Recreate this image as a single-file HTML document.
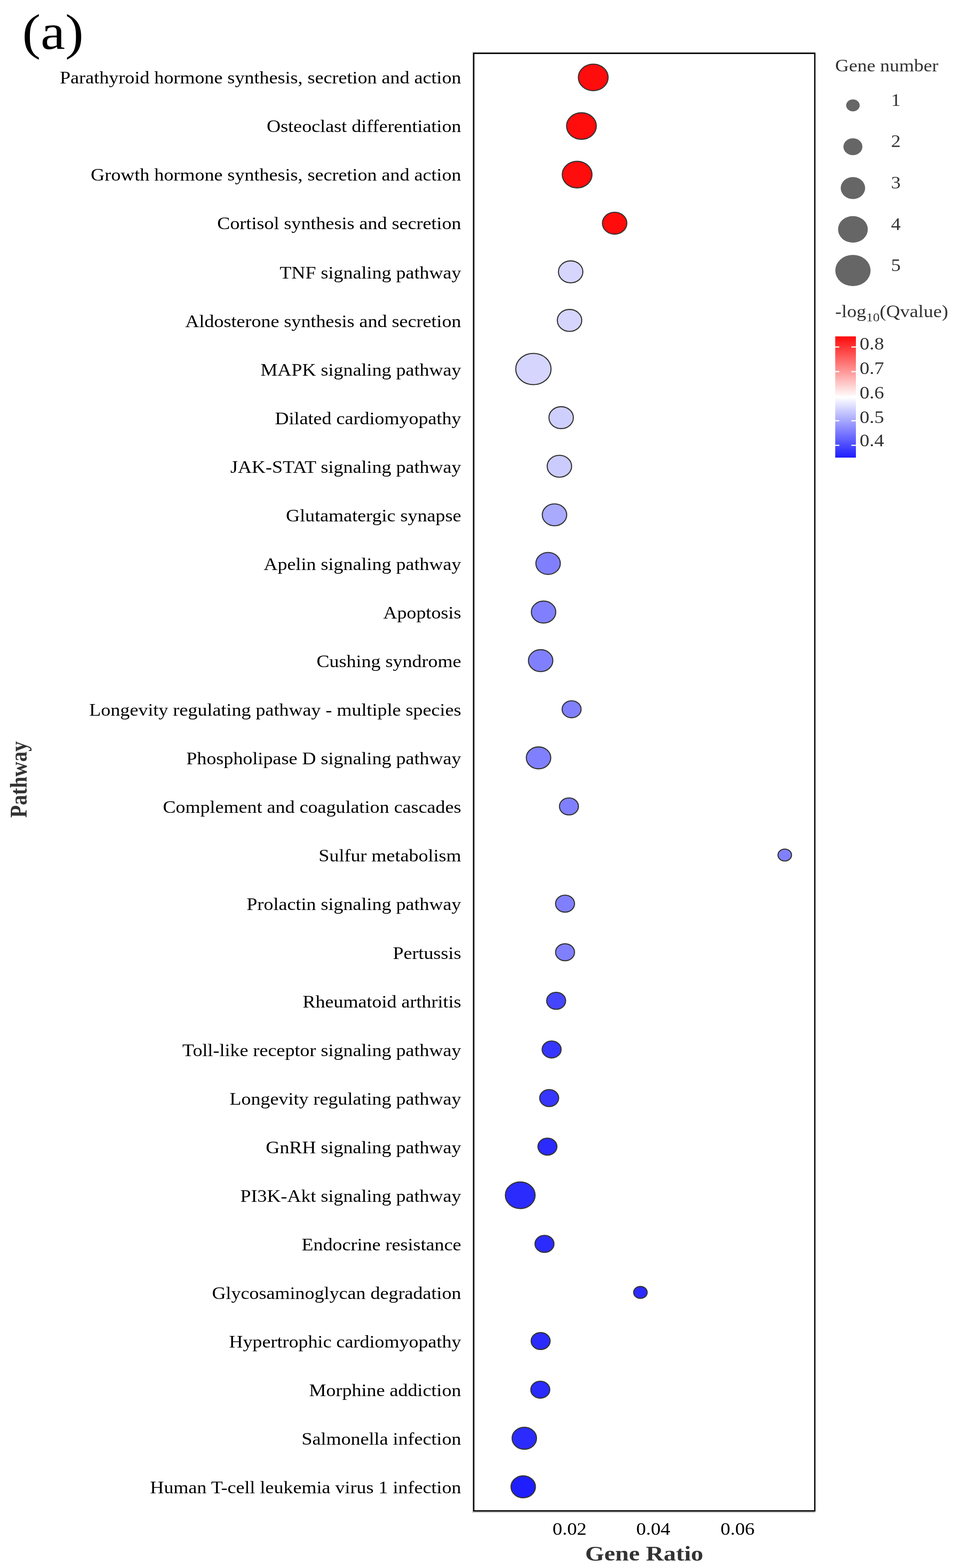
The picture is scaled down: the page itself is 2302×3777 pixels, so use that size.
<!DOCTYPE html><html><head><meta charset="utf-8"><title>Pathway enrichment bubble chart</title>
<style>html,body{margin:0;padding:0;background:#fff;}svg{display:block;}text{font-family:"Liberation Serif","Times New Roman",serif;}</style></head><body>
<svg width="2302" height="3777" viewBox="0 0 2302 3777">
<rect x="0" y="0" width="2302" height="3777" fill="#fff"/>
<text transform="translate(53.5,117.6) scale(1.10,1)" font-size="121" fill="#000">(a)</text>
<rect x="1137" y="125" width="2" height="3519" fill="#d8d8d8"/>
<rect x="1137" y="125" width="826" height="2" fill="#cccccc"/>
<rect x="1137" y="3641.5" width="826" height="2.5" fill="#c4c4c4"/>
<rect x="1140.7" y="128.5" width="821.3" height="3511" fill="none" stroke="#000" stroke-width="3.2"/>
<text transform="translate(1110.5,200.9) scale(1.1124,1)" text-anchor="end" font-size="41.6" fill="#000">Parathyroid hormone synthesis, secretion and action</text>
<text transform="translate(1110.5,318.0) scale(1.1124,1)" text-anchor="end" font-size="41.6" fill="#000">Osteoclast differentiation</text>
<text transform="translate(1110.5,435.0) scale(1.1124,1)" text-anchor="end" font-size="41.6" fill="#000">Growth hormone synthesis, secretion and action</text>
<text transform="translate(1110.5,552.1) scale(1.1124,1)" text-anchor="end" font-size="41.6" fill="#000">Cortisol synthesis and secretion</text>
<text transform="translate(1110.5,670.5) scale(1.1124,1)" text-anchor="end" font-size="41.6" fill="#000">TNF signaling pathway</text>
<text transform="translate(1110.5,787.5) scale(1.1124,1)" text-anchor="end" font-size="41.6" fill="#000">Aldosterone synthesis and secretion</text>
<text transform="translate(1110.5,904.6) scale(1.1124,1)" text-anchor="end" font-size="41.6" fill="#000">MAPK signaling pathway</text>
<text transform="translate(1110.5,1021.7) scale(1.1124,1)" text-anchor="end" font-size="41.6" fill="#000">Dilated cardiomyopathy</text>
<text transform="translate(1110.5,1138.8) scale(1.1124,1)" text-anchor="end" font-size="41.6" fill="#000">JAK-STAT signaling pathway</text>
<text transform="translate(1110.5,1255.8) scale(1.1124,1)" text-anchor="end" font-size="41.6" fill="#000">Glutamatergic synapse</text>
<text transform="translate(1110.5,1372.9) scale(1.1124,1)" text-anchor="end" font-size="41.6" fill="#000">Apelin signaling pathway</text>
<text transform="translate(1110.5,1490.0) scale(1.1124,1)" text-anchor="end" font-size="41.6" fill="#000">Apoptosis</text>
<text transform="translate(1110.5,1607.0) scale(1.1124,1)" text-anchor="end" font-size="41.6" fill="#000">Cushing syndrome</text>
<text transform="translate(1110.5,1724.1) scale(1.1124,1)" text-anchor="end" font-size="41.6" fill="#000">Longevity regulating pathway - multiple species</text>
<text transform="translate(1110.5,1841.2) scale(1.1124,1)" text-anchor="end" font-size="41.6" fill="#000">Phospholipase D signaling pathway</text>
<text transform="translate(1110.5,1958.2) scale(1.1124,1)" text-anchor="end" font-size="41.6" fill="#000">Complement and coagulation cascades</text>
<text transform="translate(1110.5,2075.3) scale(1.1124,1)" text-anchor="end" font-size="41.6" fill="#000">Sulfur metabolism</text>
<text transform="translate(1110.5,2192.4) scale(1.1124,1)" text-anchor="end" font-size="41.6" fill="#000">Prolactin signaling pathway</text>
<text transform="translate(1110.5,2309.5) scale(1.1124,1)" text-anchor="end" font-size="41.6" fill="#000">Pertussis</text>
<text transform="translate(1110.5,2426.5) scale(1.1124,1)" text-anchor="end" font-size="41.6" fill="#000">Rheumatoid arthritis</text>
<text transform="translate(1110.5,2543.6) scale(1.1124,1)" text-anchor="end" font-size="41.6" fill="#000">Toll-like receptor signaling pathway</text>
<text transform="translate(1110.5,2660.7) scale(1.1124,1)" text-anchor="end" font-size="41.6" fill="#000">Longevity regulating pathway</text>
<text transform="translate(1110.5,2777.7) scale(1.1124,1)" text-anchor="end" font-size="41.6" fill="#000">GnRH signaling pathway</text>
<text transform="translate(1110.5,2894.8) scale(1.1124,1)" text-anchor="end" font-size="41.6" fill="#000">PI3K-Akt signaling pathway</text>
<text transform="translate(1110.5,3011.9) scale(1.1124,1)" text-anchor="end" font-size="41.6" fill="#000">Endocrine resistance</text>
<text transform="translate(1110.5,3129.0) scale(1.1124,1)" text-anchor="end" font-size="41.6" fill="#000">Glycosaminoglycan degradation</text>
<text transform="translate(1110.5,3246.0) scale(1.1124,1)" text-anchor="end" font-size="41.6" fill="#000">Hypertrophic cardiomyopathy</text>
<text transform="translate(1110.5,3363.1) scale(1.1124,1)" text-anchor="end" font-size="41.6" fill="#000">Morphine addiction</text>
<text transform="translate(1110.5,3480.2) scale(1.1124,1)" text-anchor="end" font-size="41.6" fill="#000">Salmonella infection</text>
<text transform="translate(1110.5,3597.2) scale(1.1124,1)" text-anchor="end" font-size="41.6" fill="#000">Human T-cell leukemia virus 1 infection</text>
<ellipse cx="1428.5" cy="186.5" rx="35.85" ry="32.00" fill="#ff0c0c" stroke="#333" stroke-width="2.6"/>
<ellipse cx="1400.1" cy="303.6" rx="35.85" ry="32.00" fill="#ff0c0c" stroke="#333" stroke-width="2.6"/>
<ellipse cx="1389.7" cy="420.6" rx="35.85" ry="32.00" fill="#ff0c0c" stroke="#333" stroke-width="2.6"/>
<ellipse cx="1480.0" cy="537.7" rx="29.40" ry="26.40" fill="#ff0c0c" stroke="#333" stroke-width="2.6"/>
<ellipse cx="1374.1" cy="654.8" rx="29.40" ry="26.40" fill="#d5d5fe" stroke="#333" stroke-width="2.6"/>
<ellipse cx="1371.4" cy="771.8" rx="29.40" ry="26.40" fill="#d5d5fe" stroke="#333" stroke-width="2.6"/>
<ellipse cx="1284.4" cy="888.9" rx="42.50" ry="37.60" fill="#d5d5fe" stroke="#333" stroke-width="2.6"/>
<ellipse cx="1351.2" cy="1006.0" rx="29.40" ry="26.40" fill="#cfcffd" stroke="#333" stroke-width="2.6"/>
<ellipse cx="1347.0" cy="1123.1" rx="29.40" ry="26.40" fill="#cbcbfd" stroke="#333" stroke-width="2.6"/>
<ellipse cx="1335.2" cy="1240.1" rx="29.40" ry="26.40" fill="#a9a9fe" stroke="#333" stroke-width="2.6"/>
<ellipse cx="1319.8" cy="1357.2" rx="29.40" ry="26.40" fill="#8080fe" stroke="#333" stroke-width="2.6"/>
<ellipse cx="1308.9" cy="1474.3" rx="29.40" ry="26.40" fill="#8080fe" stroke="#333" stroke-width="2.6"/>
<ellipse cx="1301.8" cy="1591.3" rx="29.40" ry="26.40" fill="#8080fe" stroke="#333" stroke-width="2.6"/>
<ellipse cx="1376.4" cy="1708.4" rx="22.85" ry="20.45" fill="#8080fe" stroke="#333" stroke-width="2.6"/>
<ellipse cx="1296.8" cy="1825.5" rx="29.40" ry="26.40" fill="#8080fe" stroke="#333" stroke-width="2.6"/>
<ellipse cx="1370.0" cy="1942.5" rx="22.85" ry="20.45" fill="#8080fe" stroke="#333" stroke-width="2.6"/>
<ellipse cx="1889.7" cy="2059.6" rx="16.30" ry="14.35" fill="#8080fe" stroke="#333" stroke-width="2.6"/>
<ellipse cx="1360.6" cy="2176.7" rx="22.85" ry="20.45" fill="#8080fe" stroke="#333" stroke-width="2.6"/>
<ellipse cx="1360.6" cy="2293.8" rx="22.85" ry="20.45" fill="#8080fe" stroke="#333" stroke-width="2.6"/>
<ellipse cx="1339.2" cy="2410.8" rx="22.85" ry="20.45" fill="#4545fe" stroke="#333" stroke-width="2.6"/>
<ellipse cx="1328.3" cy="2527.9" rx="22.85" ry="20.45" fill="#3636fe" stroke="#333" stroke-width="2.6"/>
<ellipse cx="1322.4" cy="2645.0" rx="22.85" ry="20.45" fill="#3636fe" stroke="#333" stroke-width="2.6"/>
<ellipse cx="1318.2" cy="2762.0" rx="22.85" ry="20.45" fill="#2b2bfe" stroke="#333" stroke-width="2.6"/>
<ellipse cx="1252.7" cy="2879.1" rx="35.85" ry="32.00" fill="#2b2bfe" stroke="#333" stroke-width="2.6"/>
<ellipse cx="1311.1" cy="2996.2" rx="22.85" ry="20.45" fill="#2b2bfe" stroke="#333" stroke-width="2.6"/>
<ellipse cx="1542.1" cy="3113.2" rx="16.30" ry="14.35" fill="#2b2bfe" stroke="#333" stroke-width="2.6"/>
<ellipse cx="1301.8" cy="3230.3" rx="22.85" ry="20.45" fill="#2b2bfe" stroke="#333" stroke-width="2.6"/>
<ellipse cx="1301.0" cy="3347.4" rx="22.85" ry="20.45" fill="#2b2bfe" stroke="#333" stroke-width="2.6"/>
<ellipse cx="1262.5" cy="3464.5" rx="29.40" ry="26.40" fill="#2b2bfe" stroke="#333" stroke-width="2.6"/>
<ellipse cx="1259.9" cy="3581.5" rx="29.40" ry="26.40" fill="#1e1eff" stroke="#333" stroke-width="2.6"/>
<text transform="translate(1371.5,3697) scale(1.13,1)" text-anchor="middle" font-size="41.6" fill="#000">0.02</text>
<text transform="translate(1573,3697) scale(1.13,1)" text-anchor="middle" font-size="41.6" fill="#000">0.04</text>
<text transform="translate(1776,3697) scale(1.13,1)" text-anchor="middle" font-size="41.6" fill="#000">0.06</text>
<text transform="translate(1551.2,3758.5) scale(1.150,1)" text-anchor="middle" font-size="51.5" font-weight="bold" fill="#333">Gene Ratio</text>
<text transform="translate(64,1877.7) rotate(-90) scale(0.961,1.10)" text-anchor="middle" font-size="51.5" font-weight="bold" fill="#333">Pathway</text>
<text transform="translate(2011,171.9) scale(1.104,1)" font-size="41.6" fill="#333">Gene number</text>
<ellipse cx="2053.8" cy="253.8" rx="16.30" ry="14.35" fill="#666"/>
<text transform="translate(2145.5,254.8) scale(1.12,1)" font-size="41.6" fill="#333">1</text>
<ellipse cx="2053.8" cy="353.4" rx="22.85" ry="20.45" fill="#666"/>
<text transform="translate(2145.5,354.4) scale(1.12,1)" font-size="41.6" fill="#333">2</text>
<ellipse cx="2053.8" cy="453.0" rx="29.40" ry="26.40" fill="#666"/>
<text transform="translate(2145.5,454.0) scale(1.12,1)" font-size="41.6" fill="#333">3</text>
<ellipse cx="2053.8" cy="552.5" rx="35.85" ry="32.00" fill="#666"/>
<text transform="translate(2145.5,553.5) scale(1.12,1)" font-size="41.6" fill="#333">4</text>
<ellipse cx="2053.8" cy="651.6" rx="42.50" ry="37.60" fill="#666"/>
<text transform="translate(2145.5,652.6) scale(1.12,1)" font-size="41.6" fill="#333">5</text>
<text transform="translate(2011,763.7) scale(1.117,1)" font-size="41.6" fill="#333">-log<tspan font-size="29" dy="10">10</tspan><tspan dy="-10">(Qvalue)</tspan></text>
<defs><linearGradient id="cb" x1="0" y1="0" x2="0" y2="1"><stop offset="0" stop-color="#ff0a0a"/><stop offset="0.502" stop-color="#ffffff"/><stop offset="1" stop-color="#1c1cff"/></linearGradient></defs>
<rect x="2011.2" y="810.3" width="49.8" height="292" fill="url(#cb)"/>
<rect x="2011.2" y="834.5" width="9.8" height="2.8" fill="#fff"/>
<rect x="2050" y="834.5" width="11" height="2.8" fill="#fff"/>
<rect x="2011.2" y="893.7" width="9.8" height="2.8" fill="#fff"/>
<rect x="2050" y="893.7" width="11" height="2.8" fill="#fff"/>
<rect x="2011.2" y="952.9" width="9.8" height="2.8" fill="#fff"/>
<rect x="2050" y="952.9" width="11" height="2.8" fill="#fff"/>
<rect x="2011.2" y="1012.1" width="9.8" height="2.8" fill="#fff"/>
<rect x="2050" y="1012.1" width="11" height="2.8" fill="#fff"/>
<rect x="2011.2" y="1071.3" width="9.8" height="2.8" fill="#fff"/>
<rect x="2050" y="1071.3" width="11" height="2.8" fill="#fff"/>
<text transform="translate(2070,842.4) scale(1.13,1)" font-size="41.6" fill="#333">0.8</text>
<text transform="translate(2070,900.7) scale(1.13,1)" font-size="41.6" fill="#333">0.7</text>
<text transform="translate(2070,960.3) scale(1.13,1)" font-size="41.6" fill="#333">0.6</text>
<text transform="translate(2070,1018.5) scale(1.13,1)" font-size="41.6" fill="#333">0.5</text>
<text transform="translate(2070,1075.0) scale(1.13,1)" font-size="41.6" fill="#333">0.4</text>
</svg></body></html>
